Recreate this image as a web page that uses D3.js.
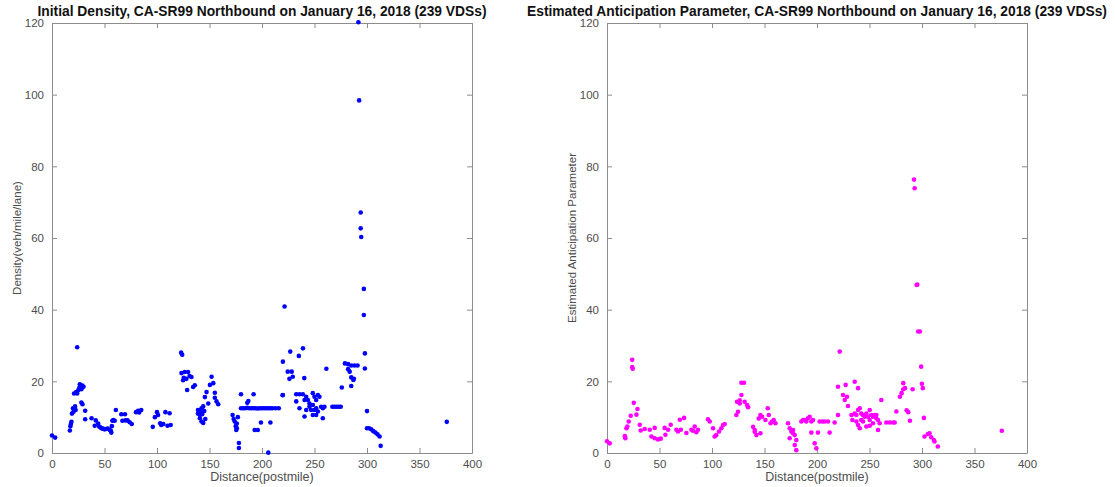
<!DOCTYPE html>
<html>
<head>
<meta charset="utf-8">
<script src="https://cdn.jsdelivr.net/npm/d3@7"></script>
<style>
  body { margin: 0; background: #fff; }
  text { font-family: "Liberation Sans", Arial, sans-serif; }
</style>
</head>
<body>
<script>
var w = 1115;
var h = 487;

// tick values shared by both panels
var xTicks = [0, 50, 100, 150, 200, 250, 300, 350, 400];
var yTicks = [0, 20, 40, 60, 80, 100, 120];

var titles = [
    "Initial Density, CA-SR99 Northbound on January 16, 2018 (239 VDSs)",
    "Estimated Anticipation Parameter, CA-SR99 Northbound on January 16, 2018 (239 VDSs)"
];
var yLabels = ["Density(veh/mile/lane)", "Estimated Anticipation Parameter"];
var xLabel = "Distance(postmile)";

// left panel: [postmile, density]
var densityPoints = [
    [0,4.9],[3,4.3],
    [17,6.3],[17.5,7.5],[18,8.1],[18.5,8.7],[19,11],[20,12.5],[20.5,11.5],[21,16.6],[22,13],[22.5,12],
    [23,17],[24,29.5],[24,16.6],[25,17.5],[26,18.2],[26.5,19.2],[27,18.8],[28,17.8],[29,18.8],[30,18.5],
    [28,14.1],[29,13.6],[31.6,11.8],[31.6,9.4],
    [37.7,9.7],[40.7,7.6],[41.7,9.1],[43.9,8.2],[44.9,7.4],[46,7.2],[47,6.9],[48.5,6.8],[50,6.6],
    [51.5,6.7],[53,6.8],[55,6.4],[56,6.2],[56.5,5.7],[57,7.5],[57.5,9],[58.5,9.2],[59.7,9],[60.8,12],
    [66,10.8],[67,9],[69.5,10.8],[70,9.1],[72,9.1],[74,8.6],[76,8.1],[80,11.4],[82,11.8],[83,11.3],[85,12],
    [96,7.3],[98,10],[100,11.4],[101,10.6],[103,8.3],[104,7.8],[106,8.1],[108,11.4],[110,7.6],[112,11.1],[113,7.8],
    [123,28],[124,27.4],[123.3,22.3],[124.9,20.3],[126.4,22.6],[128,20.7],[128.7,17.6],[129.6,22.6],
    [131,21.5],[132.8,21.2],[134.4,18.4],[136,18.9],[125.5,21],
    [139,12],[140.8,10.6],[140.8,9.7],[142.4,8.8],[144,8.4],[142.4,12.5],[145.6,15.6],[147.2,17],
    [148.8,13.8],[150.4,19],[152,21.3],[153.6,19.5],[155.1,16.8],[155.1,15.4],[156.7,14.4],[158.3,13.6],
    [139,11],[141,11.5],[143,10.8],[144,13],[145,11.7],[146,9.5],
    [172,10.6],[173,9.5],[174,8.8],[175,7.5],[175.5,6.4],[176,8.2],[177,10],[178,2.8],[178,1.4],[176,6.9],
    [180,12.5],[182,12.5],[184,12.5],[186,12.6],[188,12.5],[190,12.5],[192,12.5],[194,12.5],[196,12.4],
    [198,12.5],[200,12.5],[202,12.5],[204,12.5],[206,12.5],[208,12.5],[210,12.5],
    [186,14],[187,14.5],[180,16.4],[192,16.4],[193,6.4],[196,6.4],[199,8.5],[208,8.5],[206,0.1],
    [213,12.5],[216,12.5],[219.6,16.1],
    [221.5,40.9],[219.9,25.5],[226.9,28.3],[235.1,27.1],[239,29.2],[224.5,22.7],[228.3,22.7],
    [226.1,20.7],[229.3,21.3],[240.3,20.9],[219.9,16.2],
    [232.6,16.4],[235.7,16.4],[238.9,16.4],[232.6,14.4],[240.5,14.8],[242.1,15.7],[243.7,14.8],[245.2,13.8],
    [248.4,16.7],[250,15.7],[251.6,14.8],[253.2,16.2],[254.7,15.7],[245.2,12.9],[248.4,13.4],[246.8,12],
    [250,12],[251.6,12.5],[253.2,11.6],[256.3,12.9],[257.9,12.5],[259.5,12.9],[235.7,12.5],[242.1,12],
    [240.5,10.2],[248.4,10.6],[251.6,10.6],[257.9,9.7],[261.3,23.5],
    [267,12.9],[269,12.9],[271,12.9],[273,12.9],[275,12.9],[276,18.3],
    [279,25],[282,24.8],[285,24.4],[288,24.4],[291,24.4],[282,23.4],[283.5,22.7],[285,21.1],[287,20.4],
    [287.5,20.7],[285,18.7],
    [291.8,120.2],[292.5,98.4],[294,67.1],[294,62.7],[294.5,60.3],[297,45.8],[297,38.5],[298,27.8],
    [298,23.6],[300,11.7],
    [300,6.9],[302,6.9],[304,6.6],[306,6.1],[308,5.7],[310,5.2],[312,4.6],[313,2.0],
    [376,8.7]
];

// right panel: [postmile, anticipation parameter]
var anticipationPoints = [
    [0,3.3],[2.6,2.7],
    [17.5,4.1],[17,4.7],[18.5,6.9],[19.4,7.4],[20.7,8.8],[22.6,10.4],[24,26],[24,24],[24.5,23.5],
    [25.5,14],[29,12.3],[28,10.7],[31.2,7.9],[32.1,6.3],[35.9,6.7],[40.7,6.5],[42.3,4.6],[45.4,4.1],
    [48.6,3.8],[51.2,4],[45.4,7],[54.9,7],[55.6,5.1],[58.2,6.5],[60.7,7.9],[66.1,6.5],[67.7,6],
    [70.3,6.5],[69.3,9.3],[73.4,9.8],[75.6,5.6],[80.4,6.5],[81.9,6.2],[83.5,7.4],[85.1,5.8],[86.7,6.5],
    [96.2,9.4],[97.8,8.8],[101,6.9],[102.5,4.6],[104.1,5],[106.7,6],[108.9,6.9],[110.5,7.8],[112.1,8.1],
    [123.2,10.6],[124.8,11.5],[123.8,14.3],[126.4,14.7],[128,16.2],[128,19.6],[130.5,19.6],[126.4,13.8],
    [131.1,14.3],[133.4,13.4],[134.4,12.8],
    [139.1,7.3],[140.7,6.4],[142.3,5],[140.7,5.9],[144.5,9.6],[146.1,10.6],[147.7,10.1],[150.9,9.2],
    [153.1,12.5],[154.1,10.6],[155.7,8.3],[157.2,8.8],[158.8,9.2],[160.4,8.3],[146.1,5.5],
    [172.4,8.3],[174,6.9],[175.6,6],[177.2,6.4],[178.8,5],[174,4.1],[180.3,3.6],[178.8,2.2],[180.3,0.8],
    [177.2,5.5],
    [185.1,8.8],[186.7,9.2],[188.3,9.2],[189.8,8.8],[191.4,9.7],[193,10.1],[194.6,8.8],[196.2,9.2],
    [194.6,5.7],[197.8,2.7],[199.4,1.3],[202.5,8.8],[205.1,8.8],[207.3,8.8],[210.5,8.8],[200.9,5.7],
    [212,5.7],[216.8,8.5],
    [221.6,28.3],[220,18.5],[224.8,16.2],[226.4,14.8],[228.6,15.7],[227.3,19],[229.5,13.1],[235.9,19.9],
    [239.1,18.1],[220,10.6],
    [232.8,10.6],[233.7,9.2],[235.9,11],[237.5,10.6],[239.1,12],[240.7,12.5],[242.2,11],[242.2,9.2],
    [243.8,10.6],[245.4,10.1],[247,11],[248.6,10.1],[250.2,12],[251.7,10.6],[253.3,10.1],[254.9,10.6],
    [256.5,9.7],[258.1,9.2],[240.7,6.9],[247,7.4],[250.2,7.6],[253.3,8.3],[258.1,6.4],[259.7,8.3],
    [261.2,14.8],[243.8,8.8],[237.5,8.8],[239.1,7.8],[250.2,9.2],[256.5,10.6],
    [266,8.5],[269.2,8.5],[272.4,8.5],[274,8.5],[275.6,11.6],
    [279,15.7],[280.6,16.7],[282.2,17.8],[283.8,18.1],[282.2,19.5],[285.4,11.9],[286.9,11.4],[288.5,9],
    [291.1,17.8],
    [292.4,76.3],[293,73.9],[294.9,46.9],[295.5,47],[296.4,33.9],[298,33.9],[299.2,24.1],[299.9,19.3],
    [300.8,18.1],[301.8,9.8],
    [302.4,4.6],[305.6,5.3],[307.2,5.5],[308.8,4.4],[311.3,3.6],[311.9,3.2],[315.1,1.8],
    [376,6.2]
];

var panels = [
    { left: 52, right: 472, data: densityPoints, color: "#0000ff" },
    { left: 607, right: 1027, data: anticipationPoints, color: "#ff00ff" }
];
var plotTop = 23, plotBottom = 453;

var svg = d3.select("body")
    .append("svg")
    .attr("width", w)
    .attr("height", h);

panels.forEach(function(p, i) {
    var xScale = d3.scaleLinear().domain([0, 400]).range([p.left, p.right]);
    var yScale = d3.scaleLinear().domain([0, 120]).range([plotBottom, plotTop]);

    // inward ticks, matlab style box
    var gx = svg.append("g")
        .attr("transform", "translate(0," + plotBottom + ")")
        .call(d3.axisBottom(xScale).tickValues(xTicks).tickSizeInner(-5).tickSizeOuter(0).tickPadding(7));
    var gxt = svg.append("g")
        .attr("transform", "translate(0," + plotTop + ")")
        .call(d3.axisTop(xScale).tickValues(xTicks).tickSizeInner(-5).tickSizeOuter(0).tickFormat(""));
    var gy = svg.append("g")
        .attr("transform", "translate(" + p.left + ",0)")
        .call(d3.axisLeft(yScale).tickValues(yTicks).tickSizeInner(-5).tickSizeOuter(0).tickPadding(8));
    var gyr = svg.append("g")
        .attr("transform", "translate(" + p.right + ",0)")
        .call(d3.axisRight(yScale).tickValues(yTicks).tickSizeInner(-5).tickSizeOuter(0).tickFormat(""));

    [gx, gxt, gy, gyr].forEach(function(g) {
        g.selectAll("path, line").attr("stroke", "#8c8c8c");
        g.selectAll("text")
            .attr("fill", "#4d4d4d")
            .style("font-size", "11.5px");
    });

    svg.append("g").selectAll("circle")
        .data(p.data)
        .enter()
        .append("circle")
        .attr("cx", function(d) { return xScale(d[0]); })
        .attr("cy", function(d) { return yScale(d[1]); })
        .attr("r", 2.3)
        .attr("fill", p.color);

    // title
    svg.append("text")
        .attr("text-anchor", "middle")
        .attr("x", (p.left + p.right) / 2)
        .attr("y", 16)
        .text(titles[i])
        .style("font-size", "13.8px")
        .style("font-weight", "bold")
        .attr("fill", "#111");

    // x label
    svg.append("text")
        .attr("text-anchor", "middle")
        .attr("x", (p.left + p.right) / 2)
        .attr("y", 481)
        .text(xLabel)
        .style("font-size", "12.5px")
        .attr("fill", "#4d4d4d");

    // y label
    svg.append("text")
        .attr("text-anchor", "middle")
        .attr("transform", "rotate(-90)")
        .attr("y", p.left - 31)
        .attr("x", -(plotTop + plotBottom) / 2)
        .text(yLabels[i])
        .style("font-size", "11.5px")
        .attr("fill", "#4d4d4d");
});
</script>
</body>
</html>
